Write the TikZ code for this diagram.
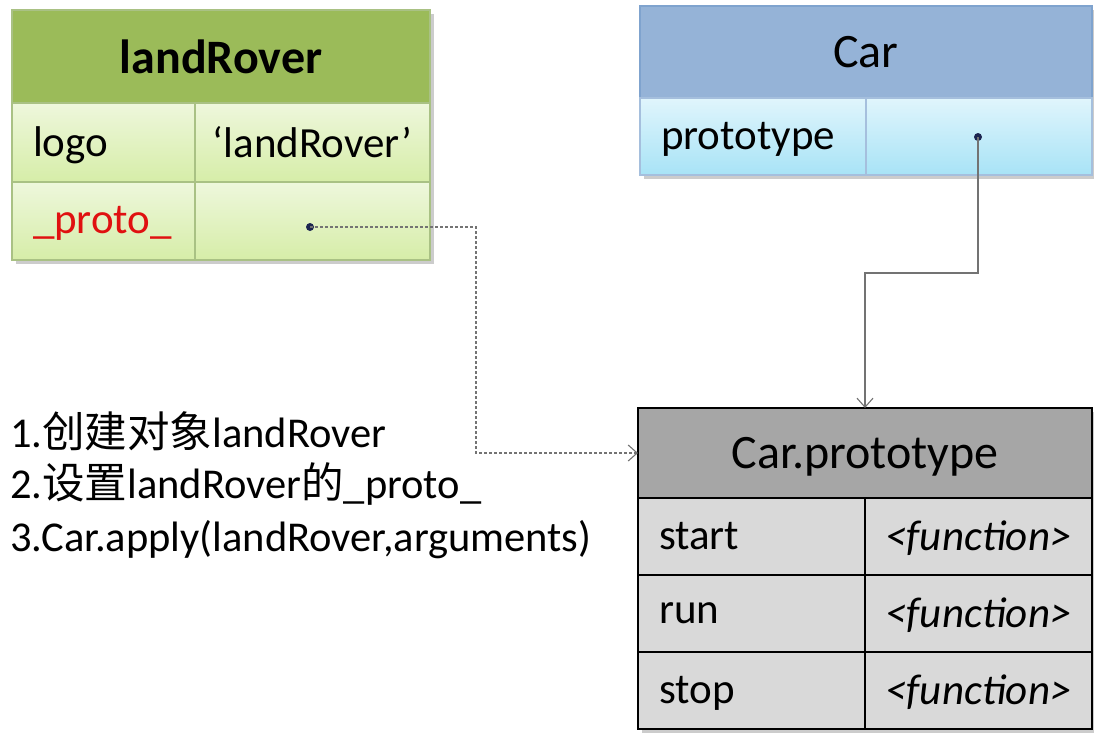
\documentclass[tikz,border=0pt]{standalone}
\usepackage{fontspec}
\setmainfont{Carlito}
\newfontfamily\cjk{Noto Sans CJK SC}
\usetikzlibrary{positioning,calc,arrows.meta,backgrounds}
\definecolor{lrhead}{HTML}{9BBB59}
\definecolor{lrtop}{HTML}{EEF7DC}
\definecolor{lrbot}{HTML}{D6EDA8}
\definecolor{lrline}{HTML}{A9C184}
\definecolor{carhead}{HTML}{95B3D7}
\definecolor{carline}{HTML}{7FA3CE}
\definecolor{cartop}{HTML}{E0F5FC}
\definecolor{carbot}{HTML}{A8E3F6}
\definecolor{cphead}{HTML}{A6A6A6}
\definecolor{cprow}{HTML}{D9D9D9}
\definecolor{protored}{HTML}{E01010}
\definecolor{dotc}{HTML}{1C2550}
\tikzstyle{cell} = [draw, line width=1.3pt, anchor=north west, outer sep=0pt, inner xsep=21pt, inner ysep=0pt, minimum height=77pt, text depth=0.18em, font=\fontsize{43}{50}\selectfont]
\tikzstyle{head} = [cell, text depth=0pt, font=\fontsize{48}{56}\selectfont]
\tikzstyle{link} = [draw, line width=1.1pt, black!55, -{Straight Barb[length=9pt,width=16pt]}]

\begin{document}
\begin{tikzpicture}[x=1pt,y=-1pt,
    key/.style={cell, align=left, text width=#1},
    val/.style={cell, inner xsep=6pt, minimum width=#1},
    lr/.style={draw=lrline, top color=lrtop, bottom color=lrbot},
    car/.style={draw=carline!70, top color=cartop, bottom color=carbot},
    cp/.style={draw=black, fill=cprow},
    dot/.style={circle, fill=dotc, inner sep=0pt, minimum size=8pt},
    stepline/.style={anchor=base west, inner sep=0pt, font=\fontsize{42.5}{50}\selectfont}]
  \useasboundingbox (0,0) rectangle (1094,737);

  % landRover object
  \node[head, draw=lrline, fill=lrhead, minimum width=418pt, minimum height=93pt, font=\fontsize{48}{56}\selectfont\bfseries] (lr-head) at (12,10) {landRover};
  \node[key=141pt, lr, minimum height=79pt] (lr-logo) at (lr-head.south west) {logo};
  \node[val=235pt, lr, minimum height=79pt] (lr-logo-v) at (lr-logo.north east) {‘landRover’};
  \node[key=141pt, lr, minimum height=78pt] (lr-proto) at (lr-logo.south west) {\textcolor{protored}{\_proto\_}};
  \node[val=235pt, lr, minimum height=78pt] (lr-proto-v) at (lr-proto.north east) {};
  \node[dot] (lr-dot) at (310,227) {};

  % Car function
  \node[head, draw=carline, fill=carhead, minimum width=452pt, minimum height=92pt] (car-head) at (640,6) {Car};
  \node[key=184pt, car] (car-proto) at (car-head.south west) {prototype};
  \node[val=226pt, car] (car-proto-v) at (car-proto.north east) {};
  \node[dot] (car-dot) at (978,137) {};

  % Car.prototype
  \node[head, cp, fill=cphead, minimum width=454pt, minimum height=90pt] (cp-head) at (638,408) {Car.prototype};
  \node[key=185pt, cp] (cp-start) at (cp-head.south west) {start};
  \node[val=227pt, cp] (cp-start-v) at (cp-start.north east) {\textit{<function>}};
  \node[key=185pt, cp] (cp-run) at (cp-start.south west) {run};
  \node[val=227pt, cp] (cp-run-v) at (cp-run.north east) {\textit{<function>}};
  \node[key=185pt, cp] (cp-stop) at (cp-run.south west) {stop};
  \node[val=227pt, cp] (cp-stop-v) at (cp-stop.north east) {\textit{<function>}};

  % shadows
  \begin{scope}[on background layer]
    \fill[black!20] ($(lr-head.north west)+(4,4)$) rectangle ($(lr-proto-v.south east)+(4,4)$);
    \fill[black!20] ($(car-head.north west)+(4,4)$) rectangle ($(car-proto-v.south east)+(4,4)$);
    \fill[black!20] ($(cp-head.north west)+(4,4)$) rectangle ($(cp-stop-v.south east)+(4,4)$);
  \end{scope}

  % steps
  \node[stepline] (step1) at (10,447) {1.{\cjk 创建对象}landRover};
  \node[stepline] (step2) at (10,498) {2.{\cjk 设置}landRover{\cjk 的}\_proto\_};
  \node[stepline] (step3) at (10,551) {3.Car.apply(landRover,arguments)};

  % links
  \coordinate (lr-bend) at (476,227);
  \coordinate (car-bend) at (cp-head.north |- 0,273);
  \draw[link, dash pattern=on 3pt off 2pt] (lr-dot.center) -- (lr-bend) |- (cp-head.west);
  \draw[link] (car-dot.center) |- (car-bend) -- (cp-head.north);
\end{tikzpicture}
\end{document}
